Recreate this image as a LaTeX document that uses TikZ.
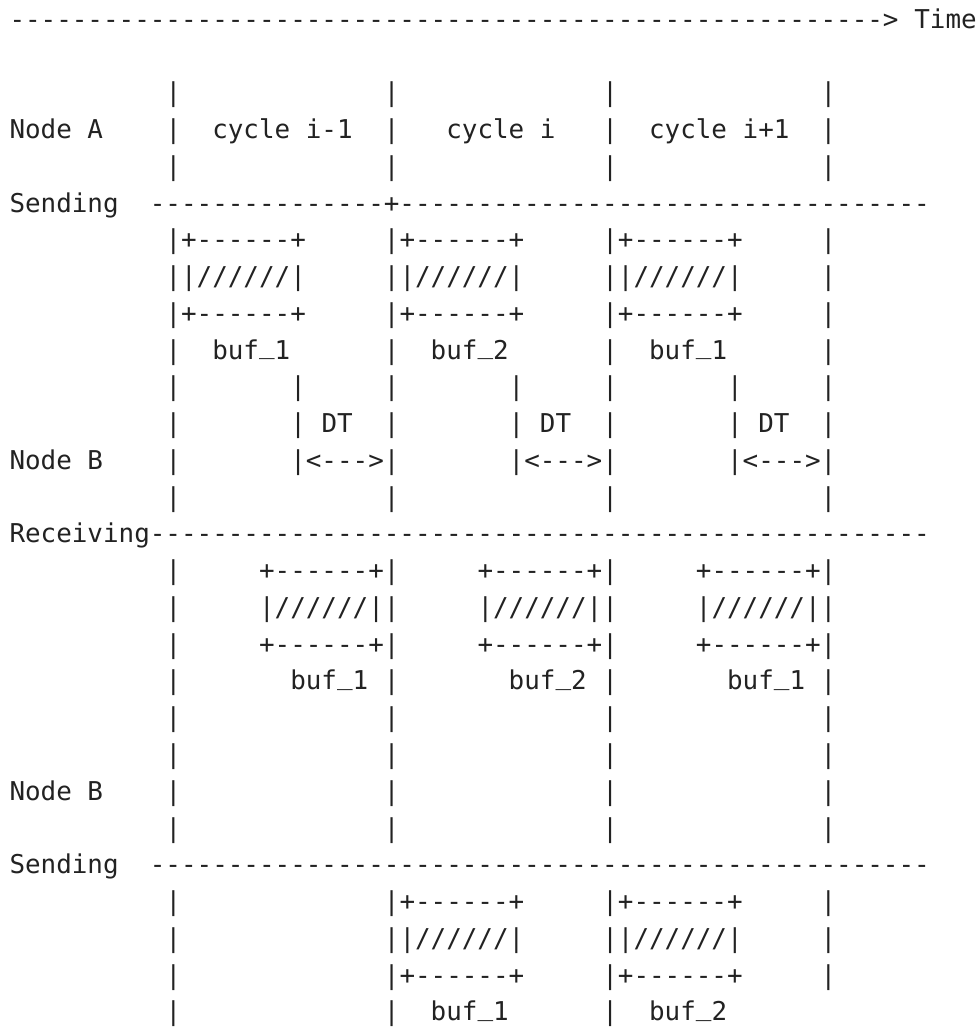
\documentclass[tikz,border=0pt]{standalone}
\usepackage{fontspec}
\setmonofont{DejaVu Sans Mono}
\definecolor{ink}{HTML}{222222}
\ExplSyntaxOn
\NewDocumentCommand{\dashrun}{m}{\prg_replicate:nn{#1}{-}}
\ExplSyntaxOff
\newcommand{\us}{\raisebox{0.2em}{\_}}
\tikzset{
  txt/.style={anchor=base west, inner sep=0pt, outer sep=0pt, text=ink,
    font={\ttfamily\fontsize{25.91pt}{30pt}\selectfont}}
}
\newcommand{\seg}[4]{\node[txt] (#1) at (#2,#3) {#4};}
\newcommand{\vb}[3]{\node[txt] (#1) at (#2,#3) {|};}
\newcommand{\fourbars}[1]{\vb{v#1a}{10}{#1}\vb{v#1b}{24}{#1}\vb{v#1c}{38}{#1}\vb{v#1d}{52}{#1}}
\begin{document}
\begin{tikzpicture}
\useasboundingbox (0pt,0pt) rectangle (978pt,-1028pt);
\begin{scope}[shift={(9.5pt,-28.3pt)}, x=15.6pt, y=-36.76pt]
% row 0: time axis
\seg{axis}{0}{0}{\dashrun{56}>}
\seg{time}{58}{0}{Time}
% rows 2-4: Node A cycles
\fourbars{2}
\seg{nodeA}{0}{3}{Node A}
\vb{v3a}{10}{3}\seg{cyc1}{13}{3}{cycle i-1}
\vb{v3b}{24}{3}\seg{cyc2}{28}{3}{cycle i}
\vb{v3c}{38}{3}\seg{cyc3}{41}{3}{cycle i+1}
\vb{v3d}{52}{3}
\fourbars{4}
% row 5: sending A
\seg{sendA}{0}{5}{Sending}
\seg{lineA}{9}{5}{\dashrun{15}+\dashrun{34}}
% rows 6-8: send buffers A
\seg{sa1t}{10}{6}{|+------+}\seg{sa2t}{24}{6}{|+------+}\seg{sa3t}{38}{6}{|+------+}\vb{v6d}{52}{6}
\seg{sa1m}{10}{7}{||//////|}\seg{sa2m}{24}{7}{||//////|}\seg{sa3m}{38}{7}{||//////|}\vb{v7d}{52}{7}
\seg{sa1b}{10}{8}{|+------+}\seg{sa2b}{24}{8}{|+------+}\seg{sa3b}{38}{8}{|+------+}\vb{v8d}{52}{8}
% row 9: buffer names
\vb{v9a}{10}{9}\seg{bufA1}{13}{9}{buf\us1}
\vb{v9b}{24}{9}\seg{bufA2}{27}{9}{buf\us2}
\vb{v9c}{38}{9}\seg{bufA3}{41}{9}{buf\us1}
\vb{v9d}{52}{9}
% row 10
\vb{v10a}{10}{10}\vb{v10e}{18}{10}\vb{v10b}{24}{10}\vb{v10f}{32}{10}\vb{v10c}{38}{10}\vb{v10g}{46}{10}\vb{v10d}{52}{10}
% row 11: DT
\vb{v11a}{10}{11}
\vb{v11e}{18}{11}\seg{dt1}{20}{11}{DT}\vb{v11b}{24}{11}
\vb{v11f}{32}{11}\seg{dt2}{34}{11}{DT}\vb{v11c}{38}{11}
\vb{v11g}{46}{11}\seg{dt3}{48}{11}{DT}\vb{v11d}{52}{11}
% row 12: Node B with DT arrows
\seg{nodeB1}{0}{12}{Node B}
\vb{v12a}{10}{12}
\seg{arr1}{18}{12}{|<--->|}\seg{arr2}{32}{12}{|<--->|}\seg{arr3}{46}{12}{|<--->|}
\fourbars{13}
% row 14: receiving
\seg{recv}{0}{14}{Receiving\dashrun{50}}
% rows 15-17: receive buffers
\vb{v15a}{10}{15}\seg{rb1t}{16}{15}{+------+|}\seg{rb2t}{30}{15}{+------+|}\seg{rb3t}{44}{15}{+------+|}
\vb{v16a}{10}{16}\seg{rb1m}{16}{16}{|//////||}\seg{rb2m}{30}{16}{|//////||}\seg{rb3m}{44}{16}{|//////||}
\vb{v17a}{10}{17}\seg{rb1b}{16}{17}{+------+|}\seg{rb2b}{30}{17}{+------+|}\seg{rb3b}{44}{17}{+------+|}
% row 18
\vb{v18a}{10}{18}\seg{bufR1}{18}{18}{buf\us1}\vb{v18b}{24}{18}
\seg{bufR2}{32}{18}{buf\us2}\vb{v18c}{38}{18}
\seg{bufR3}{46}{18}{buf\us1}\vb{v18d}{52}{18}
\fourbars{19}
\fourbars{20}
\seg{nodeB2}{0}{21}{Node B}
\fourbars{21}
\fourbars{22}
% row 23: sending B
\seg{sendB}{0}{23}{Sending}
\seg{lineB}{9}{23}{\dashrun{50}}
% rows 24-26: send buffers B
\vb{v24a}{10}{24}\seg{sb1t}{24}{24}{|+------+}\seg{sb2t}{38}{24}{|+------+}\vb{v24d}{52}{24}
\vb{v25a}{10}{25}\seg{sb1m}{24}{25}{||//////|}\seg{sb2m}{38}{25}{||//////|}\vb{v25d}{52}{25}
\vb{v26a}{10}{26}\seg{sb1b}{24}{26}{|+------+}\seg{sb2b}{38}{26}{|+------+}\vb{v26d}{52}{26}
% row 27
\vb{v27a}{10}{27}
\vb{v27b}{24}{27}\seg{bufB1}{27}{27}{buf\us1}
\vb{v27c}{38}{27}\seg{bufB2}{41}{27}{buf\us2}
\end{scope}
\end{tikzpicture}
\end{document}
